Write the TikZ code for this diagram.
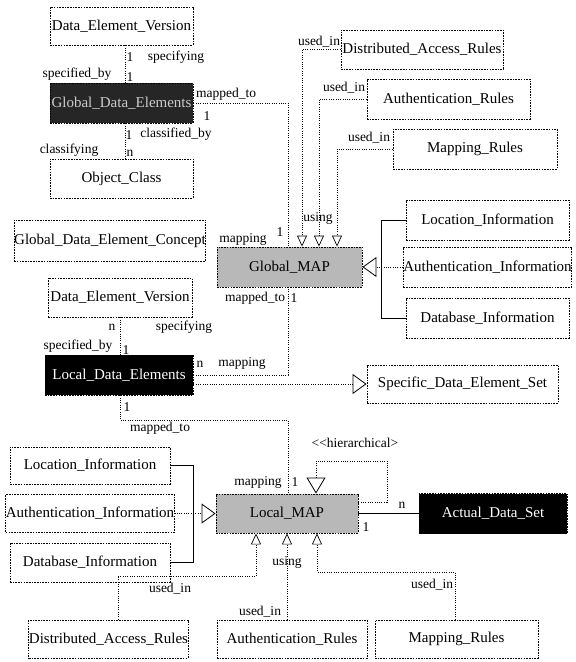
\documentclass[tikz,border=0pt]{standalone}
\usepackage{fontspec}
\setmainfont{Liberation Serif}
\usetikzlibrary{arrows.meta}
\begin{document}
\begin{tikzpicture}[x=1pt,y=-1pt,
  box/.style={draw, dash pattern=on 1.6pt off 1.1pt, line width=0.9pt, inner sep=0pt,
    font=\fontsize{15}{17}\selectfont},
  darkbox/.style={box, fill=black, text=white},
  greybox/.style={box, fill=black!85, text=white!80!black},
  mapbox/.style={box, fill=black!28},
  conn/.style={dash pattern=on 1pt off 1.3pt, line width=0.9pt},
  solidconn/.style={line width=0.7pt},
  bigtip/.style={-{Triangle[open,length=14pt,width=20pt,line width=0.8pt]}},
  smalltip/.style={-{Triangle[open,length=11pt,width=10pt,line width=0.7pt]}},
  lab/.style={inner sep=0pt, font=\fontsize{13.5}{15}\selectfont}]
\useasboundingbox (0,0) rectangle (576,662);

% ---- boxes ----
\node[box, minimum width=143pt, minimum height=38pt] (dev1) at (121.5,26) {Data\_Element\_Version};
\node[greybox, minimum width=143pt, minimum height=40pt] (gde) at (121.5,103) {Global\_Data\_Elements};
\node[box, minimum width=143pt, minimum height=39pt] (oc) at (121.5,178.5) {Object\_Class};
\node[box, minimum width=186pt, minimum height=41pt] (gdec) at (110,240.5) {Global\_Data\_Element\_Concept};
\node[mapbox, minimum width=145pt, minimum height=40pt] (gmap) at (289.5,267) {Global\_MAP};
\node[box, minimum width=144pt, minimum height=39pt] (dev2) at (120,297.5) {Data\_Element\_Version};
\node[darkbox, minimum width=148pt, minimum height=40pt] (lde) at (119,375) {Local\_Data\_Elements};

\node[box, minimum width=162pt, minimum height=39pt] (dar1) at (422,49.5) {Distributed\_Access\_Rules};
\node[box, minimum width=163pt, minimum height=40pt] (ar1) at (448.5,99) {Authentication\_Rules};
\node[box, minimum width=164pt, minimum height=40pt] (mr1) at (475,149) {Mapping\_Rules};
\node[box, minimum width=163pt, minimum height=40pt] (li1) at (487.5,220) {Location\_Information};
\node[box, minimum width=163pt, minimum height=40pt] (ai1) at (487.5,267) {Authentication\_Information};
\node[box, minimum width=163pt, minimum height=40pt] (di1) at (487.5,318) {Database\_Information};
\node[box, minimum width=191pt, minimum height=38pt] (sdes) at (462.5,384) {Specific\_Data\_Element\_Set};

\node[mapbox, minimum width=142pt, minimum height=39pt] (lmap) at (287,513.5) {Local\_MAP};
\node[darkbox, minimum width=148pt, minimum height=40pt] (ads) at (493,513.5) {Actual\_Data\_Set};
\node[box, minimum width=160pt, minimum height=37pt] (li2) at (90,465.5) {Location\_Information};
\node[box, minimum width=160pt, minimum height=38pt] (ai2) at (90,513.5) {Authentication\_Information};
\node[box, minimum width=160pt, minimum height=39pt] (di2) at (90,562.5) {Database\_Information};
\node[box, minimum width=143pt, minimum height=38pt] (dar2) at (108.5,639) {Distributed\_Access\_Rules};
\node[box, minimum width=150pt, minimum height=38pt] (ar2) at (292,639) {Authentication\_Rules};
\node[box, minimum width=163pt, minimum height=38pt] (mr2) at (456.5,639) {Mapping\_Rules};

% ---- bend coordinates ----
\coordinate (bA) at (288,420);
\coordinate (hB) at (387,461);
\coordinate (b1) at (256,576);
\coordinate (b3) at (317,572);

% ---- connectors ----
\draw[conn] ([xshift=3.5pt]dev1.south) -- ([xshift=3.5pt]gde.north);
\draw[conn] ([xshift=3.5pt]gde.south) -- ([xshift=3.5pt]oc.north);
\draw[conn] (gde.east) -| ([xshift=-1.5pt]gmap.north);
\draw[conn] (lde.east) -| ([xshift=-1.5pt]gmap.south);
\draw[conn] (dev2.south) -- (dev2.south |- lde.north);
\draw[conn] ([xshift=1pt]lde.south) |- (bA) -- (bA |- lmap.north);
\draw[conn, bigtip] ([yshift=-9pt]lde.east) -- ([yshift=-9pt]lde.east -| sdes.west);

\draw[conn, smalltip] (dar1.west) -| ([xshift=12.5pt]gmap.north);
\draw[conn, smalltip] (ar1.west) -| ([xshift=29.5pt]gmap.north);
\draw[conn, smalltip] (mr1.west) -| ([xshift=47.5pt]gmap.north);

\draw[solidconn] (li1.west) -- ++(-24,0) |- (di1.west);
\draw[conn, bigtip] (ai1.west) -- (gmap.east);

\draw[solidconn] (li2.east) -- ++(23,0) |- (di2.east);
\draw[conn, bigtip] (ai2.east) -- (lmap.west);

\draw[solidconn] (lmap.east) -- (ads.west);
\draw[conn, -{Triangle[open,length=16pt,width=19pt,line width=0.8pt]}] ([yshift=11.5pt]lmap.east) -| (hB) -| ([xshift=29pt]lmap.north);

\draw[conn, smalltip] ([xshift=9.5pt]dar2.north) |- (b1) -- (b1 |- lmap.south);
\draw[conn, smalltip] (lmap.south |- ar2.north) -- (lmap.south);
\draw[conn, smalltip] ([xshift=-1.5pt]mr2.north) |- (b3) -- (b3 |- lmap.south);

% ---- labels ----
\node[lab] (l1) at (130,57) {1};
\node[lab] (l2) at (176,57) {specifying};
\node[lab] (l3) at (77,74) {specified\_by};
\node[lab] (l4) at (130,77) {1};
\node[lab] (l5) at (226,94) {mapped\_to};
\node[lab] (l6) at (207,116) {1};
\node[lab] (l7) at (129,135) {1};
\node[lab] (l8) at (176,134) {classified\_by};
\node[lab] (l9) at (69,150) {classifying};
\node[lab] (l10) at (130,153) {n};

\node[lab] (l11) at (319,42) {used\_in};
\node[lab] (l12) at (344,88) {used\_in};
\node[lab] (l13) at (369,138) {used\_in};
\node[lab] (l14) at (318,218) {using};
\node[lab] (l15) at (243,239) {mapping};
\node[lab] (l16) at (280,232) {1};
\node[lab] (l17) at (255,298) {mapped\_to};
\node[lab] (l18) at (294,298) {1};

\node[lab] (l19) at (112,327) {n};
\node[lab] (l20) at (184,327) {specifying};
\node[lab] (l21) at (78,346) {specified\_by};
\node[lab] (l22) at (126,350) {1};
\node[lab] (l23) at (200,364) {n};
\node[lab] (l24) at (242,363) {mapping};

\node[lab] (l25) at (127,407) {1};
\node[lab] (l26) at (160,428) {mapped\_to};
\node[lab] (l27) at (355,443) {<\kern0pt<hierarchical>};
\node[lab] (l28) at (258,482) {mapping};
\node[lab] (l29) at (295,482) {1};
\node[lab] (l30) at (402,505) {n};
\node[lab] (l31) at (366,527) {1};

\node[lab] (l32) at (287,562) {using};
\node[lab] (l33) at (170,589) {used\_in};
\node[lab] (l34) at (260,612) {used\_in};
\node[lab] (l35) at (432,585) {used\_in};
\end{tikzpicture}
\end{document}
